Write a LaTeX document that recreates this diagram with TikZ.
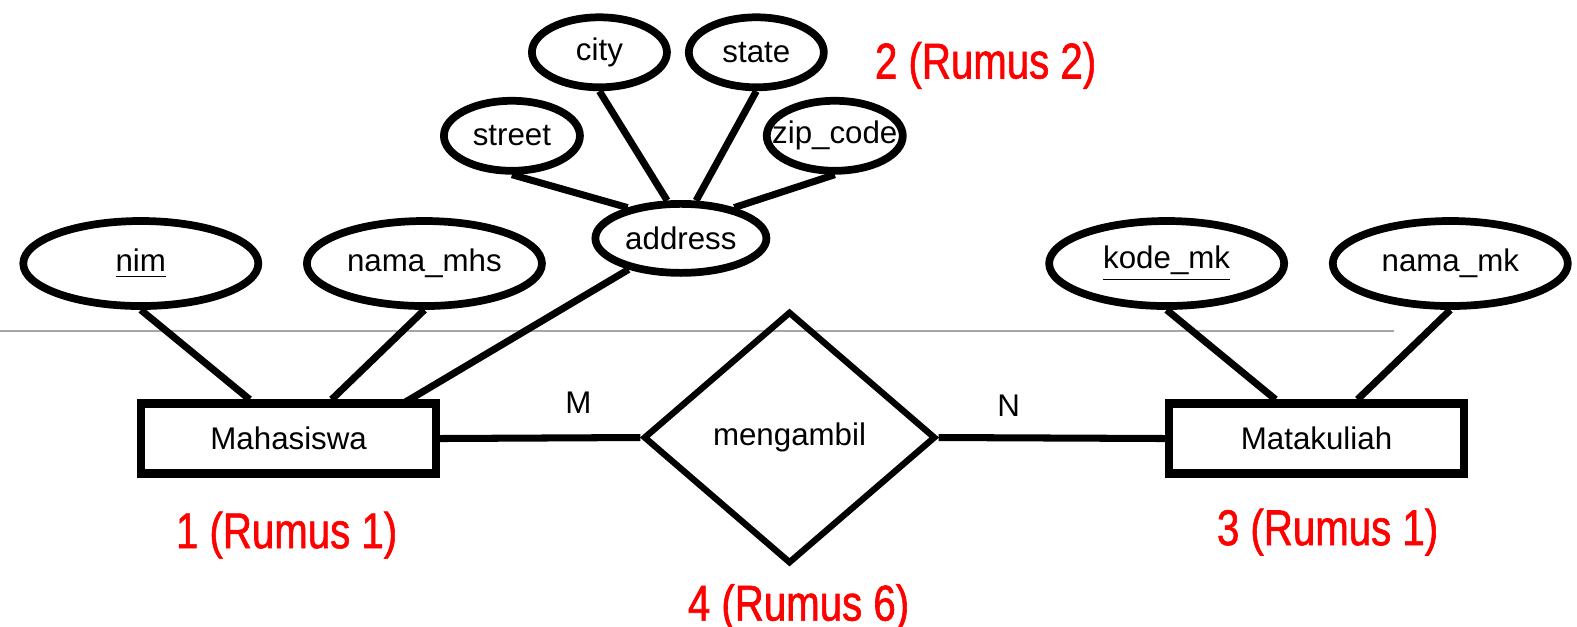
\documentclass[tikz,border=0pt]{standalone}
\usepackage{fontspec}
\setmainfont{Liberation Sans}
\newfontfamily\rednotefont[FakeStretch=0.8, FakeBold=1.2]{Liberation Sans}
\usetikzlibrary{shapes.geometric}

\begin{document}
\begin{tikzpicture}[x=0.010057cm, y=-0.010057cm,
          attr/.style={ellipse, draw, line width=2.2pt, inner sep=0pt,
                       minimum width=2.35cm, minimum height=0.85cm,
                       font=\fontsize{8.9}{10.5}\selectfont},
          subattr/.style={attr, minimum width=1.36cm, minimum height=0.70cm},
          ent/.style={rectangle, draw, line width=2.3pt, minimum width=2.95cm,
                      minimum height=0.70cm, font=\fontsize{8.9}{10.5}\selectfont},
          rel/.style={diamond, draw, line width=1.8pt, inner sep=0pt,
                      minimum width=2.92cm, minimum height=2.52cm,
                      font=\fontsize{8.9}{10.5}\selectfont},
          lnk/.style={line width=2pt},
          card/.style={font=\fontsize{8.9}{10.5}\selectfont},
          note/.style={text=red, anchor=base,
                       font=\rednotefont\fontsize{14.3}{17}\selectfont}
        ]
        \useasboundingbox (0,0) rectangle (1568,623);

        % thin gray rule
        \coordinate (ruleL) at (0,329);
        \coordinate (ruleR) at (1386,329);
        \draw[gray!70, line width=0.6pt] (ruleL) -- (ruleR);

        % entities and relationship
        \node[ent] (mhs) at (287,436) {Mahasiswa};
        \node[ent] (mk)  at (1309,436) {Matakuliah};
        \node[rel] (ambil) at (785,435) {mengambil};

        % attributes
        \node[attr] (nim)     at (140,262)  {\underline{nim}};
        \node[attr] (namamhs) at (422,262)  {nama\_mhs};
        \node[attr] (kodemk)  at (1160,262) {\underline{kode\_mk}};
        \node[attr] (namamk)  at (1442,262) {nama\_mk};
        \node[attr, minimum width=1.71cm, minimum height=0.69cm]
              (address) at (677,237) {address};

        % composite parts of address
        \node[subattr] (street) at (509,135) {street};
        \node[subattr, minimum width=1.35cm] (city)  at (596,52) {city};
        \node[subattr, minimum width=1.35cm] (state) at (752,52) {state};
        \node[subattr] (zip) at (830,135) {\makebox[0pt]{zip\_code}};

        \draw[lnk] (nim.south)     -- ([xshift=-0.39cm]mhs.north);
        \draw[lnk] (namamhs.south) -- ([xshift=0.43cm]mhs.north);
        \draw[lnk] (address)       -- ([xshift=1.16cm, yshift=-0.03cm]mhs.north);
        \draw[lnk] (kodemk.south)  -- ([xshift=-0.41cm]mk.north);
        \draw[lnk] (namamk.south)  -- ([xshift=0.41cm]mk.north);

        \draw[lnk] (street.south) -- (address.150);
        \draw[lnk] (city.south)   -- (address.110);
        \draw[lnk] (state.south)  -- (address.68);
        \draw[lnk] (zip.south)    -- (address.30);

        \draw[lnk] (mhs.east)   -- (ambil.west);
        \draw[lnk] (ambil.east) -- (mk.west);

        % cardinalities
        \node[card] (cardM) at (575,400) {M};
        \node[card] (cardN) at (1003,403) {N};

        % red notes
        \node[note] (noteA) at (980,78)  {2 (Rumus 2)};
        \node[note] (noteB) at (285,545) {1 (Rumus 1)};
        \node[note] (noteC) at (1320,542) {3 (Rumus 1)};
        \node[note] (noteD) at (794,617) {4 (Rumus 6)};
      \end{tikzpicture}
\end{document}
